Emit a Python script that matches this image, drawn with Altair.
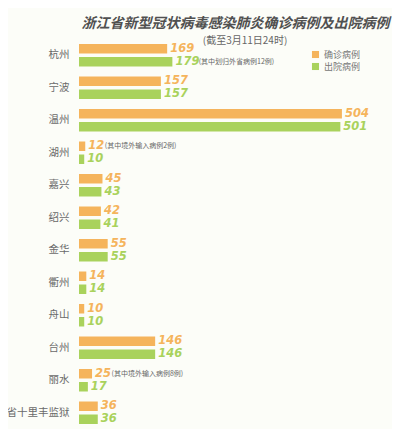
import altair as alt
import pandas as pd

cities = ["杭州", "宁波", "温州", "湖州", "嘉兴", "绍兴", "金华", "衢州", "舟山", "台州", "丽水", "省十里丰监狱"]
confirmed = [169, 157, 504, 12, 45, 42, 55, 14, 10, 146, 25, 36]
discharged = [179, 157, 501, 10, 43, 41, 55, 14, 10, 146, 17, 36]
series = ["确诊病例", "出院病例"]
colors = ["#F5B45C", "#A9D25C"]

note_city = ["杭州", "湖州", "丽水"]
note_series = ["出院病例", "确诊病例", "确诊病例"]
note_value = [179, 12, 25]
note_text = ["(其中划归外省病例12例)", "(其中境外输入病例2例)", "(其中境外输入病例8例)"]

title_text = "浙江省新型冠状病毒感染肺炎确诊病例及出院病例"
subtitle_text = ["(截至3月11日24时)"]

rows = []
for c, a, b in zip(cities, confirmed, discharged):
    rows.append({"city": c, "series": series[0], "value": a})
    rows.append({"city": c, "series": series[1], "value": b})
df = pd.DataFrame(rows)
notes = pd.DataFrame({"city": note_city, "series": note_series, "value": note_value, "note": note_text})

y_enc = alt.Y("city:N", sort=cities, title=None,
              scale=alt.Scale(paddingInner=0, paddingOuter=0),
              axis=alt.Axis(domain=False, ticks=False, labelPadding=10, labelFontSize=10.5,
                            labelColor="#6a6a6a", labelFont="Noto Sans CJK SC", labelLimit=80))
yoff = alt.YOffset("series:N", sort=series, scale=alt.Scale(paddingInner=0.27, paddingOuter=0.385))
x_enc = alt.X("value:Q", scale=alt.Scale(domain=[0, 569]), axis=None)
color_enc = alt.Color("series:N", sort=series, scale=alt.Scale(domain=series, range=colors),
                      legend=alt.Legend(title=None, orient="none", legendX=232, legendY=11,
                                        symbolType="square", symbolSize=50, symbolStrokeWidth=0,
                                        labelFontSize=9, labelColor="#777777", rowPadding=2,
                                        labelFont="Noto Sans CJK SC", symbolOpacity=1))

bars = alt.Chart(df).mark_bar(cornerRadius=0).encode(y=y_enc, yOffset=yoff, x=x_enc, color=color_enc)

labels = alt.Chart(df).mark_text(align="left", baseline="middle", dx=3, font="DejaVu Sans",
                                 fontSize=11.5, fontWeight="bold", fontStyle="italic").encode(
    y=alt.Y("city:N", sort=cities), yOffset=alt.YOffset("series:N", sort=series),
    x="value:Q", text="value:Q",
    color=alt.Color("series:N", sort=series, legend=None))

note_layer = alt.Chart(notes).transform_calculate(
    nx="datum.value + length(toString(datum.value)) * 13"
).mark_text(align="left", baseline="middle", dx=6, fontSize=7,
            color="#666666", font="Noto Sans CJK SC").encode(
    y=alt.Y("city:N", sort=cities), yOffset=alt.YOffset("series:N", sort=series),
    x="nx:Q", text="note:N")

sub_layer = alt.Chart(pd.DataFrame({"t": subtitle_text})).mark_text(
    align="center", baseline="middle", fontSize=10, color="#666666", font="Noto Sans CJK SC"
).encode(x=alt.value(166), y=alt.value(1.5), text="t:N")

chart = alt.layer(bars, labels, note_layer, sub_layer).properties(
    width=313, height=390,
    autosize=alt.AutoSizeParams(type="none"),
    padding={"left": 71, "top": 31, "right": 0, "bottom": 0},
    background="#FCFDF8",
    title=alt.TitleParams(text=title_text, anchor="middle",
                          font="Noto Sans CJK SC", fontSize=14, fontWeight="bold", fontStyle="italic",
                          color="#505050", offset=5)
).configure_view(stroke=None).configure_scale(bandPaddingInner=0)

chart.save("out.html", embed_options={"renderer": "svg", "actions": False})
